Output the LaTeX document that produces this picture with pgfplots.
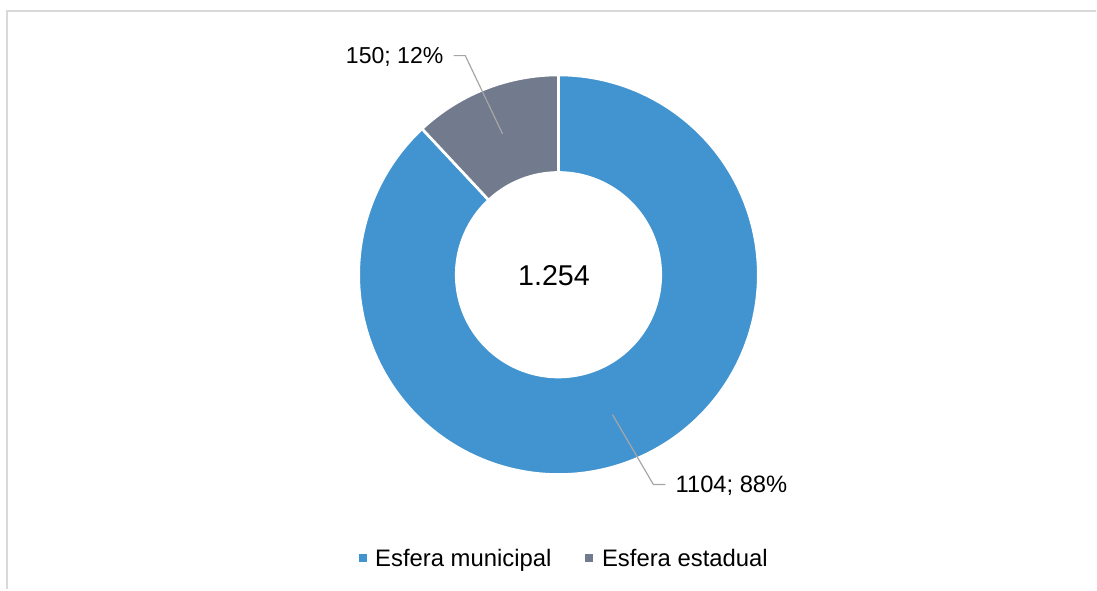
\documentclass[border=0pt]{standalone}
\usepackage{pgfplots}
\pgfplotsset{compat=1.18}
\usepackage{pgfplotstable}
\usepackage{fontspec}
\setmainfont{Liberation Sans}
\definecolor{munblue}{RGB}{66,148,208}
\definecolor{estgray}{RGB}{113,123,141}
\definecolor{leader}{RGB}{166,166,166}
\definecolor{frame}{RGB}{217,217,217}

\pgfplotstableread{
label value
municipal 1104
estadual 150
}\donutdata
\pgfplotstablegetelem{0}{value}\of\donutdata \let\vA\pgfplotsretval
\pgfplotstablegetelem{1}{value}\of\donutdata \let\vB\pgfplotsretval
\pgfmathsetmacro{\total}{\vA+\vB}
\pgfmathsetmacro{\fracA}{\vA/\total}
\pgfmathsetmacro{\angA}{90-360*\fracA}

\begin{document}%
\begin{tikzpicture}
\begin{axis}[
  scale only axis,
  width=822.75pt, height=442.5pt,
  xmin=0, xmax=1097, ymin=0, ymax=590,
  hide axis, clip=false,
  legend style={at={(axis cs:565,31)}, anchor=center, draw=none, fill=none,
    font=\fontsize{17.9}{20}\selectfont, legend columns=2,
    /tikz/every even column/.append style={column sep=23.5pt}},
  legend image code/.code={\fill[#1,draw=none] (0pt,-3pt) rectangle (6pt,3pt); \path[draw=none,fill=none] (6pt,0) -- (10.5pt,0);},
]
% page extent
\addplot[forget plot, draw=none] coordinates {(0,0) (1097,590)};
% frame
\addplot[forget plot, draw=frame, line width=1.5pt] coordinates {(7.5,0) (7.5,578.5) (1097,578.5)};
% municipal sector
\addplot[forget plot, fill=munblue, draw=white, line width=2pt, domain=\angA:90, samples=240]
  ({559+200*cos(x)},{315+200*sin(x)}) -- (axis cs:559,315) -- cycle;
% estadual sector
\addplot[forget plot, fill=estgray, draw=white, line width=2pt, domain=90:{360+\angA}, samples=80]
  ({559+200*cos(x)},{315+200*sin(x)}) -- (axis cs:559,315) -- cycle;
% hole
\addplot[forget plot, fill=white, draw=white, line width=1pt, domain=0:360, samples=200]
  ({559+103*cos(x)},{315+103*sin(x)}) -- cycle;
% leader lines
\addplot[forget plot, draw=leader, line width=0.9pt] coordinates {(454,534.3) (465.7,534.3) (503,456)};
\addplot[forget plot, draw=leader, line width=0.9pt] coordinates {(613,175) (654,105) (666,105)};
% labels
\node[anchor=base west, inner sep=0pt, font=\fontsize{17.3}{20}\selectfont] at (axis cs:346,526) {150; 12\%};
\node[anchor=base west, inner sep=0pt, font=\fontsize{17.8}{20}\selectfont] at (axis cs:676,97) {1104; 88\%};
\node[anchor=base, inner sep=0pt, font=\fontsize{21.5}{24}\selectfont] at (axis cs:554.5,304) {1.254};
% legend
\addlegendimage{fill=munblue}
\addlegendentry{Esfera municipal}
\addlegendimage{fill=estgray}
\addlegendentry{Esfera estadual}
\end{axis}
\end{tikzpicture}%
\end{document}
